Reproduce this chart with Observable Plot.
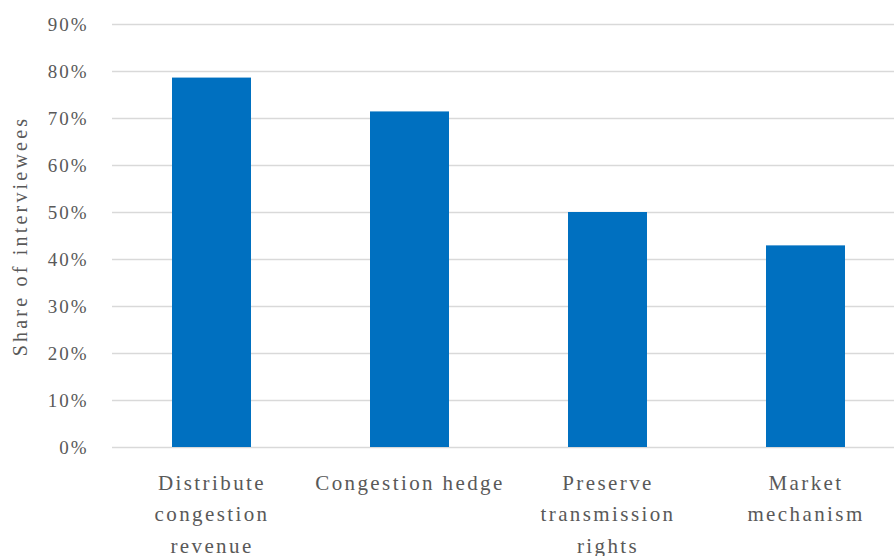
<!DOCTYPE html>
<html>
<head>
<meta charset="utf-8">
<script src="https://cdn.jsdelivr.net/npm/d3@7"></script>
<script src="https://cdn.jsdelivr.net/npm/@observablehq/plot@0.6"></script>
<style>
  html, body { margin: 0; padding: 0; background: #fff; }
  #chart svg { display: block; }
  #chart g[aria-label="x-axis tick label"] text { letter-spacing: 2.4px; }
  #chart g[aria-label="y-axis tick label"] text { letter-spacing: 2px; }
</style>
</head>
<body>
<div id="chart"></div>
<script>
const categories = ["Distribute congestion revenue", "Congestion hedge", "Preserve transmission rights", "Market mechanism"];
const tickLabels = ["Distribute\ncongestion\nrevenue", "Congestion hedge", "Preserve\ntransmission\nrights", "Market\nmechanism"];
const shares = [0.786, 0.714, 0.50, 0.429];
const yTicks = [0, 0.1, 0.2, 0.3, 0.4, 0.5, 0.6, 0.7, 0.8, 0.9];
const yLabel = "Share of interviewees";

const data = categories.map((c, i) => ({category: c, share: shares[i]}));
const labelOf = new Map(categories.map((c, i) => [c, tickLabels[i]]));

const fontFamily = "'Liberation Serif', 'DejaVu Serif', serif";
const textColor = "#595959";

const chart = Plot.plot({
  width: 894,
  height: 556,
  marginTop: 24,
  marginBottom: 109,
  marginLeft: 112,
  marginRight: -11,
  style: {fontFamily, color: textColor, background: "#fff"},
  x: {domain: categories, padding: 0.6, paddingOuter: 0.3},
  y: {domain: [0, 0.9]},
  marks: [
    Plot.gridY(yTicks, {stroke: "#d9d9d9", strokeOpacity: 1, strokeWidth: 1.5}),
    Plot.barY(data, {x: "category", y: "share", fill: "#0070C0"}),
    Plot.axisY(yTicks, {
      tickSize: 0, tickPadding: 24, fontSize: 19, fill: textColor,
      tickFormat: d => `${Math.round(d * 100)}%`, label: null
    }),
    Plot.text([yLabel], {
      text: d => d,
      frameAnchor: "left", textAnchor: "middle", lineAnchor: "middle",
      dx: -92, rotate: -90, fontSize: 20, fill: textColor
    }),
    Plot.axisX({
      tickSize: 0, tickPadding: 20, fontSize: 21, fill: textColor, lineHeight: 1.5,
      tickFormat: d => labelOf.get(d), label: null
    })
  ]
});
d3.select(chart).selectAll("text")
  .filter(function() { return this.textContent === yLabel; })
  .style("letter-spacing", "3.2px");
document.getElementById("chart").appendChild(chart);
</script>
</body>
</html>
